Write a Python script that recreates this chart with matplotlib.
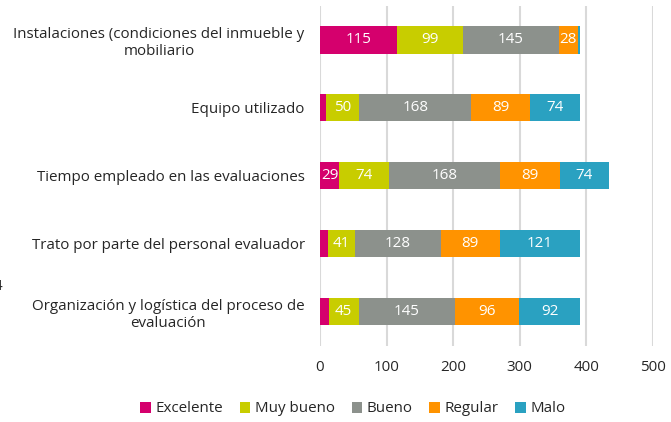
import matplotlib
matplotlib.use("Agg")
import matplotlib.pyplot as plt
import numpy as np

categories = [
    "Instalaciones (condiciones del inmueble y\nmobiliario",
    "Equipo utilizado",
    "Tiempo empleado en las evaluaciones",
    "Trato por parte del personal evaluador",
    "Organización y logística del proceso de\nevaluación",
]
series_names = ["Excelente", "Muy bueno", "Bueno", "Regular", "Malo"]
excelente = [115, 9, 29, 12, 13]
muy_bueno = [99, 50, 74, 41, 45]
bueno = [145, 168, 168, 128, 145]
regular = [28, 89, 89, 89, 96]
malo = [3, 74, 74, 121, 92]
colors = ["#D5006D", "#C8CD00", "#8C918C", "#FF9300", "#2AA1C1"]
xticks = [0, 100, 200, 300, 400, 500]

plt.rcParams['font.family'] = ['Open Sans', 'DejaVu Sans']
text_color = "#262626"
fs = 10.9

fig = plt.figure(figsize=(6.71, 4.22), dpi=100)
ax = fig.add_axes([320/671, 1-345.7/422, (653-320)/671, (345.7-6)/422])

series = [excelente, muy_bueno, bueno, regular, malo]
y = np.arange(len(categories))
left = np.zeros(len(categories))
for name, vals, c in zip(series_names, series, colors):
    vals = np.array(vals, dtype=float)
    ax.barh(y, vals, left=left, height=0.4, color=c, label=name, zorder=3)
    for yi, l, v in zip(y, left, vals):
        if v >= 20:
            ax.text(l + v/2, yi, f"{int(v)}", ha='center', va='center',
                    color='white', fontsize=fs, zorder=4)
    left = left + vals

ax.set_xlim(0, 500)
ax.set_ylim(len(categories) - 0.5, -0.5)
ax.set_xticks(xticks)
ax.set_xticklabels([str(t) for t in xticks], fontsize=fs, color=text_color)
ax.set_yticks(y)
ax.set_yticklabels(categories, fontsize=fs, color=text_color)
for t in ax.get_yticklabels():
    t.set_multialignment('center')
ax.tick_params(axis='y', length=0, pad=11)
ax.tick_params(axis='x', length=0, pad=10)
ax.grid(axis='x', color='#d9d9d9', linewidth=1.5, zorder=0)
for s in ax.spines.values():
    s.set_visible(False)

fig.legend(loc='center', bbox_to_anchor=(353/671, 1-409/422), ncol=5,
           frameon=False, fontsize=fs, handlelength=0.7, handleheight=0.7,
           handletextpad=0.3, columnspacing=1.1, labelcolor=text_color)

fig.text(-2.5/671, 1-286/422, "4", fontsize=fs, color=text_color, ha='center', va='center')

fig.savefig("out.png", dpi=100)
